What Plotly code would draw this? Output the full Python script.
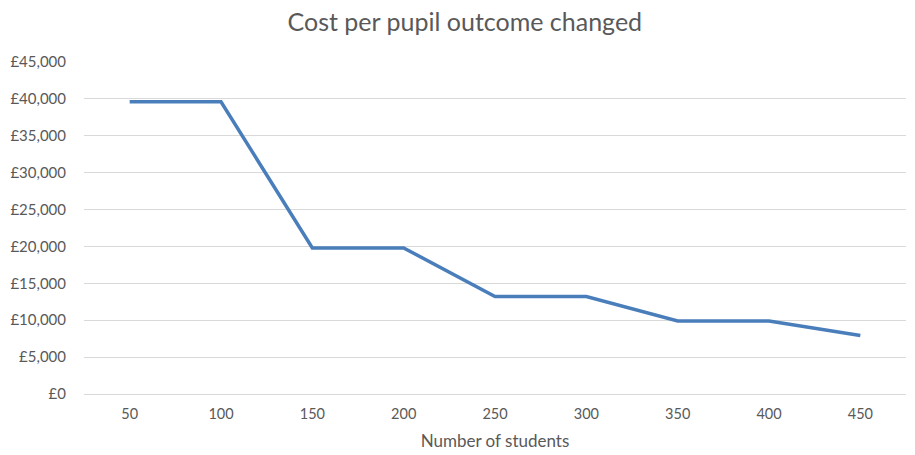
import plotly.graph_objects as go

students = ["50", "100", "150", "200", "250", "300", "350", "400", "450"]
cost = [39600, 39600, 19800, 19800, 13200, 13200, 9900, 9900, 7920]
y_ticks = [0, 5000, 10000, 15000, 20000, 25000, 30000, 35000, 40000, 45000]
y_tick_labels = ["£0", "£5,000", "£10,000", "£15,000", "£20,000", "£25,000",
                 "£30,000", "£35,000", "£40,000", "£45,000"]

fig = go.Figure()
fig.add_trace(go.Scatter(
    x=students, y=cost, mode="lines",
    line=dict(color="#4A7EBB", width=3.5),
))

fig.update_layout(
    width=915, height=455,
    paper_bgcolor="white", plot_bgcolor="white",
    margin=dict(l=84, r=9, t=62, b=61),
    font=dict(family="Lato, Open Sans, sans-serif", color="#595959", size=14),
    title=dict(text="Cost per pupil outcome changed", x=0.508, xanchor="center",
               y=0.952, yanchor="middle",
               font=dict(size=25, color="#595959")),
    showlegend=False,
)
fig.update_xaxes(
    type="category", range=[-0.5, 8.5], showgrid=False, zeroline=False, showline=False,
    ticks="", ticklabelstandoff=9, tickfont=dict(size=14.5, color="#595959"),
    title=dict(text="Number of students", font=dict(size=17, color="#595959"), standoff=14),
)
fig.update_yaxes(
    range=[0, 45000], tickvals=y_ticks, ticktext=y_tick_labels,
    showgrid=True, gridcolor="#D9D9D9", gridwidth=1,
    zeroline=True, zerolinecolor="#D9D9D9", zerolinewidth=1,
    showline=False, ticks="", ticklabelstandoff=17,
    tickfont=dict(size=15, color="#595959"),
)

fig.write_html("out.html", config={"displayModeBar": False},
               post_script="document.body.style.margin='0';")
